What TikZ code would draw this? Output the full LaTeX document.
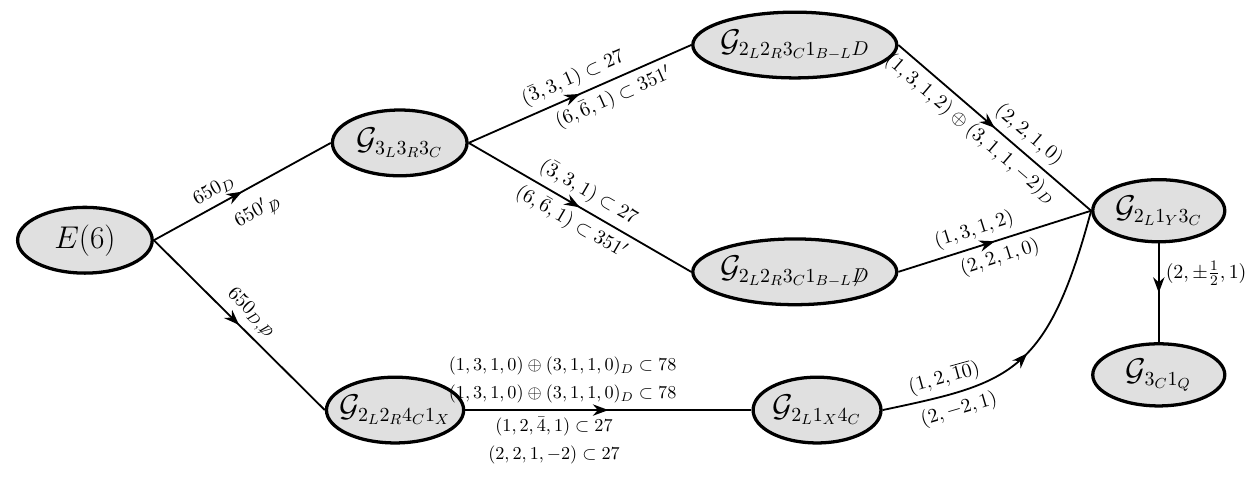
\documentclass[tikz,border=0pt]{standalone}
\usetikzlibrary{shapes.geometric,arrows.meta,decorations.markings}
% group name, kept zero-width so the ellipse keeps its set size
\newcommand\grpname[1]{\makebox[0pt]{$\mathcal{G}_{#1}$}}
\begin{document}
\begin{tikzpicture}[
  grp/.style={ellipse,draw,line width=1.8pt,fill=black!12,inner sep=0pt,
    minimum width=2.6cm,minimum height=1.27cm,font=\fontsize{16}{19}\selectfont},
  flow/.style={line width=1pt,postaction={decorate},
    decoration={markings,mark=at position #1 with {\arrow{Stealth[length=3mm,width=2.2mm]}}}},
  flow/.default=0.5,
  lab/.style={sloped,font=\fontsize{11.3}{14}\selectfont},
  rep/.style={align=center,font=\fontsize{10}{15.5}\selectfont}
]
  \useasboundingbox (0,0) rectangle (24.2,9.27);
  % groups
  \node[grp] (e6) at (1.64,4.63) {\makebox[0pt]{$E(6)$}};
  \node[grp] (g333) at (7.72,6.51) {\grpname{3_L3_R3_C}};
  \node[grp,minimum width=3.94cm] (g2231d) at (15.35,8.40) {\grpname{2_L2_R3_C1_{B-L}D}};
  \node[grp,minimum width=3.94cm] (g2231nd) at (15.35,4.02) {\grpname{2_L2_R3_C1_{B-L}\not D}};
  \node[grp,minimum width=2.65cm] (g2241) at (7.63,1.35) {\grpname{2_L2_R4_C1_X}};
  \node[grp,minimum width=2.47cm] (g214) at (15.78,1.35) {\grpname{2_L1_X4_C}};
  \node[grp,minimum width=2.55cm,minimum height=1.2cm] (g213) at (22.38,5.20) {\grpname{2_L1_Y3_C}};
  \node[grp,minimum width=2.55cm,minimum height=1.2cm] (g31) at (22.38,2.03) {\grpname{3_C1_Q}};
  % breaking chains
  \draw[flow] (e6.east) -- (g333.west)
    node[lab,pos=0.38,above] {$650_D$} node[lab,pos=0.52,below=4pt] {${650'}_{\not D}$};
  \draw[flow] (e6.east) -- (g2241.west)
    node[lab,midway,above] {$650_{D,\not D}$};
  \draw[flow] (g333.east) -- (g2231d.west)
    node[lab,midway,above] {$(\bar 3,3,1)\subset 27$} node[lab,pos=0.62,below] {$(6,\bar 6,1)\subset 351'$};
  \draw[flow] (g333.east) -- (g2231nd.west)
    node[lab,midway,above] {$(\bar 3,3,1)\subset 27$} node[lab,midway,below] {$(6,\bar 6,1)\subset 351'$};
  \draw[flow] (g2231d.east) -- (g213.west)
    node[lab,pos=0.62,above] {$(2,2,1,0)$} node[lab,pos=0.43,below] {$(1,3,1,2)\oplus(3,1,1,-2)_D$};
  \draw[flow] (g2231nd.east) -- (g213.west)
    node[lab,pos=0.42,above] {$(1,3,1,2)$} node[lab,midway,below] {$(2,2,1,0)$};
  \draw[flow] (g2241.east) -- (g214.west)
    node[rep,pos=0.34,above] {$(1,3,1,0)\oplus(3,1,1,0)_D\subset 78$\\$(1,3,1,0)\oplus(3,1,1,0)_D\subset 78$}
    node[rep,pos=0.31,below] {$(1,2,\bar 4,1)\subset 27$\\$(2,2,1,-2)\subset 27$};
  \draw[flow] (g214.east) .. controls +(12:2.5) and +(255:3.3) ..
    node[lab,pos=0.2,above] {$(1,2,\overline{10})$}
    node[lab,pos=0.22,below] {$(2,-2,1)$} (g213.west);
  \draw[flow] (g213.south) -- (g31.north)
    node[lab,sloped=false,pos=0.3,right] {$(2,\pm\frac12,1)$};
\end{tikzpicture}
\end{document}
